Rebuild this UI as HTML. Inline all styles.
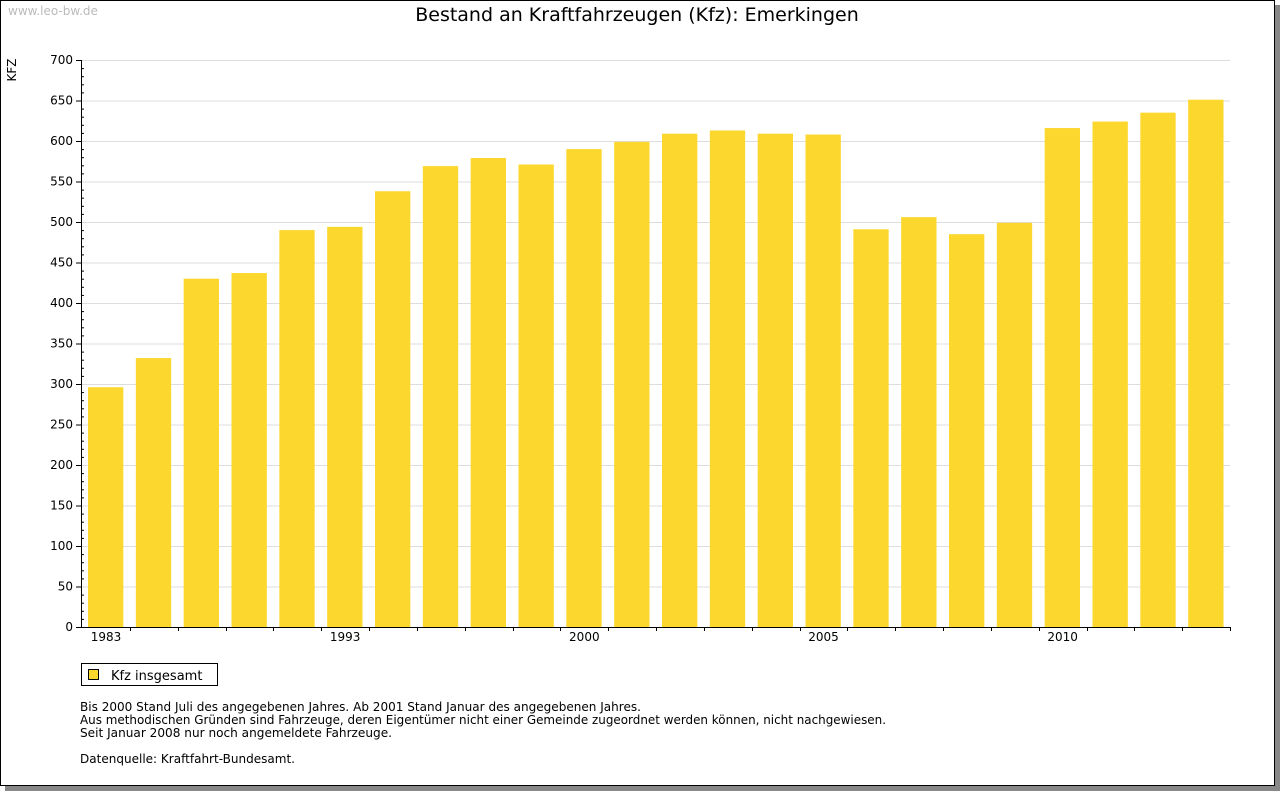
<!DOCTYPE html>
<html><head><meta charset="utf-8"><style>
body{margin:0;background:#fff;width:1280px;height:791px;overflow:hidden;font-family:"DejaVu Sans","Liberation Sans",sans-serif}
</style></head><body>
<svg width="1280" height="791" xmlns="http://www.w3.org/2000/svg" font-family="DejaVu Sans, Liberation Sans, sans-serif">
<rect x="5" y="5" width="1275" height="786" fill="#888"/>
<rect x="0.5" y="0.5" width="1274" height="785" fill="#fff" stroke="#000"/>
<text x="8" y="15" font-size="12" fill="#bbb">www.leo-bw.de</text>
<text x="637" y="21" font-size="19" text-anchor="middle">Bestand an Kraftfahrzeugen (Kfz): Emerkingen</text>
<text transform="translate(16,70) rotate(-90)" font-size="12" text-anchor="middle">KFZ</text>
<g id="grid"></g><g id="bars"></g><g id="axes"></g>
<rect x="81.5" y="663.5" width="136" height="22" fill="#fff" stroke="#000"/>
<rect x="88.5" y="669.5" width="10" height="10" fill="#fcd72e" stroke="#000"/>
<text x="111" y="680" font-size="13">Kfz insgesamt</text>
<g font-size="12">
<text x="80" y="711" textLength="561" lengthAdjust="spacingAndGlyphs">Bis 2000 Stand Juli des angegebenen Jahres. Ab 2001 Stand Januar des angegebenen Jahres.</text>
<text x="80" y="724" textLength="806" lengthAdjust="spacingAndGlyphs">Aus methodischen Gründen sind Fahrzeuge, deren Eigentümer nicht einer Gemeinde zugeordnet werden können, nicht nachgewiesen.</text>
<text x="80" y="737" textLength="312" lengthAdjust="spacingAndGlyphs">Seit Januar 2008 nur noch angemeldete Fahrzeuge.</text>
<text x="80" y="763" textLength="215" lengthAdjust="spacingAndGlyphs">Datenquelle: Kraftfahrt-Bundesamt.</text>
</g>
</svg>
<script>
const categories=["1983","","","","","1993","","","","","2000","","","","","2005","","","","","2010","","",""];
const values=[296,332,430,437,490,494,538,569,579,571,590,599,609,613,609,608,491,506,485,499,616,624,635,651];
const yTicks=[0,50,100,150,200,250,300,350,400,450,500,550,600,650,700];
const NS="http://www.w3.org/2000/svg";
const L=81,R=1230,T=60,B=627,YMAX=700;
const y=v=>B-(v/YMAX)*(B-T);
const step=(R-L-1)/values.length;
const x=i=>L+1+i*step;
function mk(tag,attrs,parent,txt){const e=document.createElementNS(NS,tag);for(const k in attrs)e.setAttribute(k,attrs[k]);if(txt!==undefined)e.textContent=txt;document.getElementById(parent).appendChild(e);return e;}
yTicks.forEach(t=>{
 if(t>0){const g=mk('line',{x1:L,x2:R,y1:y(t)+.5,y2:y(t)+.5,stroke:'#ddd'},'grid');
 
 }
 const lb=mk('text',{x:73,y:y(t)+4,'font-size':12,'text-anchor':'end'},'axes',t);
 
 
 const tk=mk('line',{x1:L-5,x2:L,y1:y(t)+.5,y2:y(t)+.5,stroke:'#000'},'axes');
 
 
});
for(let v=10;v<YMAX;v+=10){if(v%50){const m=mk('line',{x1:L,x2:L+3,y1:y(v)+.5,y2:y(v)+.5,stroke:'#000'},'axes');
 
 }}
values.forEach((v,i)=>{
 const b=mk('rect',{x:x(i)+6,y:y(v),width:step-12.5,height:B-y(v),fill:'#fcd72e'},'bars');
 
 
 const tk=mk('line',{x1:Math.round(x(i+1))+.5,x2:Math.round(x(i+1))+.5,y1:B,y2:B+4,stroke:'#000'},'axes');
 
 
 if(categories[i]){const t=mk('text',{x:x(i)+24,y:B+14,'font-size':12,'text-anchor':'middle'},'axes',categories[i]);
 
 }
});
const ya=mk('line',{x1:L+.5,x2:L+.5,y1:T,y2:B+1,stroke:'#000'},'axes');


const xa=mk('line',{x1:L,x2:R,y1:B+.5,y2:B+.5,stroke:'#000'},'axes');


</script>
</body></html>
